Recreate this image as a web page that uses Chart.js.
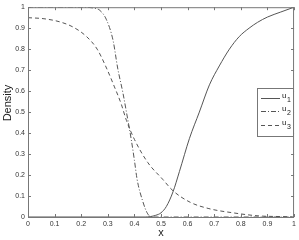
<!DOCTYPE html>
<html>
<head>
<meta charset="utf-8">
<script src="https://cdn.jsdelivr.net/npm/chart.js@4/dist/chart.umd.min.js"></script>
<style>
	html, body { margin:0; padding:0; background:#fff; }
	.chart-wrap { width:299px; height:240px; position:relative; }
</style>
</head>
<body>
<div class="chart-wrap"><canvas id="densChart"></canvas></div>
<script>
// values
const u1X = [0, 0.4, 0.44, 0.46, 0.48, 0.5, 0.52, 0.545, 0.569, 0.607, 0.644, 0.682, 0.719, 0.757, 0.794, 0.831, 0.863, 0.9, 0.95, 1];
const u1Y = [0, 0, 0, 0.002, 0.008, 0.02, 0.05, 0.12, 0.216, 0.375, 0.50, 0.63, 0.72, 0.80, 0.86, 0.90, 0.928, 0.953, 0.977, 1.0];

const u2X = [0, 0.2, 0.25, 0.27, 0.295, 0.32, 0.337, 0.357, 0.37, 0.388, 0.40, 0.41, 0.43, 0.45, 0.47, 0.5, 1];
const u2Y = [1, 1, 0.995, 0.985, 0.94, 0.84, 0.71, 0.59, 0.50, 0.37, 0.27, 0.18, 0.08, 0.015, 0, 0, 0];

const u3X = [0, 0.06, 0.12, 0.17, 0.22, 0.26, 0.295, 0.325, 0.35, 0.37, 0.40, 0.45, 0.506, 0.545, 0.61, 0.68, 0.77, 0.87, 0.95, 1];
const u3Y = [0.95, 0.945, 0.93, 0.905, 0.86, 0.80, 0.71, 0.62, 0.54, 0.46, 0.37, 0.26, 0.18, 0.125, 0.07, 0.04, 0.02, 0.005, 0.002, 0];

const seriesBase = ['u', 'u', 'u'];
const seriesSub = ['1', '2', '3'];
const xTicks = [0, 0.1, 0.2, 0.3, 0.4, 0.5, 0.6, 0.7, 0.8, 0.9, 1];
const yTicks = [0, 0.1, 0.2, 0.3, 0.4, 0.5, 0.6, 0.7, 0.8, 0.9, 1];
const xTitle = 'x';
const yTitle = 'Density';

const FONT = '"Liberation Sans", Arial, sans-serif';
const LINE = '#555';
const AXIS = '#777';

function pts(xs, ys){
	return xs.map((x, i) => ({x: x, y: ys[i]}));
}

// box, inward ticks, axis titles, legend
const matlabLook = {
	id: 'matlabLook',
	afterDraw(chart){
		const ctx = chart.ctx;
		const a = chart.chartArea;
		const sx = chart.scales.x, sy = chart.scales.y;
		ctx.save();
		ctx.strokeStyle = AXIS;
		ctx.lineWidth = 1;
		ctx.strokeRect(a.left + 0.5, a.top + 0.5, a.right - a.left - 1, a.bottom - a.top);
		ctx.beginPath();
		xTicks.forEach(v => {
			const px = Math.round(sx.getPixelForValue(v)) + 0.5;
			ctx.moveTo(px, a.bottom); ctx.lineTo(px, a.bottom - 3);
			ctx.moveTo(px, a.top); ctx.lineTo(px, a.top + 3);
		});
		yTicks.forEach(v => {
			const py = Math.round(sy.getPixelForValue(v)) + 0.5;
			ctx.moveTo(a.left, py); ctx.lineTo(a.left + 3, py);
			ctx.moveTo(a.right, py); ctx.lineTo(a.right - 3, py);
		});
		ctx.stroke();

		// axis titles
		ctx.fillStyle = '#222';
		ctx.font = '11px ' + FONT;
		ctx.textAlign = 'center';
		ctx.textBaseline = 'middle';
		ctx.fillText(xTitle, (a.left + a.right) / 2, 233);
		ctx.translate(8, 103);
		ctx.rotate(-Math.PI / 2);
		ctx.fillText(yTitle, 0, 0);
		ctx.restore();

		// legend
		ctx.save();
		const lx = 257, ly = 88, lw = 36, lh = 48;
		ctx.fillStyle = '#fff';
		ctx.fillRect(lx, ly, lw, lh);
		ctx.strokeStyle = AXIS;
		ctx.strokeRect(lx + 0.5, ly + 0.5, lw, lh);
		const rows = [98, 111, 125];
		chart.data.datasets.forEach((ds, i) => {
			const y = rows[i] + 0.5;
			ctx.strokeStyle = ds.borderColor;
			ctx.lineWidth = 1;
			ctx.setLineDash(ds.borderDash || []);
			ctx.beginPath();
			ctx.moveTo(261, y); ctx.lineTo(280, y);
			ctx.stroke();
			ctx.setLineDash([]);
			ctx.fillStyle = '#222';
			ctx.textAlign = 'left';
			ctx.textBaseline = 'alphabetic';
			ctx.font = '8px ' + FONT;
			ctx.fillText(seriesBase[i], 282, y - 1);
			ctx.font = '7px ' + FONT;
			ctx.fillText(seriesSub[i], 287, y + 3);
		});
		ctx.restore();
	}
};

window.addEventListener('DOMContentLoaded', function(){
	const ctx = document.getElementById('densChart').getContext('2d');
	const common = { borderColor: LINE, borderWidth: 1, pointRadius: 0, fill: false, cubicInterpolationMode: 'monotone' };
	new Chart(ctx, {
		type: 'line',
		data: {
			datasets: [
				Object.assign({ label: 'u1', data: pts(u1X, u1Y) }, common),
				Object.assign({ label: 'u2', data: pts(u2X, u2Y), borderDash: [5, 2, 1, 2] }, common),
				Object.assign({ label: 'u3', data: pts(u3X, u3Y), borderDash: [4, 3] }, common)
			]
		},
		options: {
			responsive: true,
			maintainAspectRatio: false,
			animation: false,
			layout: { padding: { top: 7, right: 4, left: 0, bottom: 0 } },
			plugins: { legend: { display: false }, tooltip: { enabled: false } },
			scales: {
				x: {
					type: 'linear', min: 0, max: 1,
					afterBuildTicks: s => { s.ticks = xTicks.map(v => ({value: v})); },
					afterFit: s => { s.height = 23; },
					grid: { display: false, drawTicks: false },
					border: { display: false },
					ticks: { color: '#333', font: { size: 7, family: FONT }, padding: 3, maxRotation: 0, autoSkip: false,
						callback: v => String(v) }
				},
				y: {
					type: 'linear', min: 0, max: 1,
					afterBuildTicks: s => { s.ticks = yTicks.map(v => ({value: v})); },
					afterFit: s => { s.width = 28; },
					grid: { display: false, drawTicks: false },
					border: { display: false },
					ticks: { color: '#333', font: { size: 7, family: FONT }, padding: 3, autoSkip: false,
						callback: v => String(v) }
				}
			}
		},
		plugins: [matlabLook]
	});
});
</script>
</body>
</html>
